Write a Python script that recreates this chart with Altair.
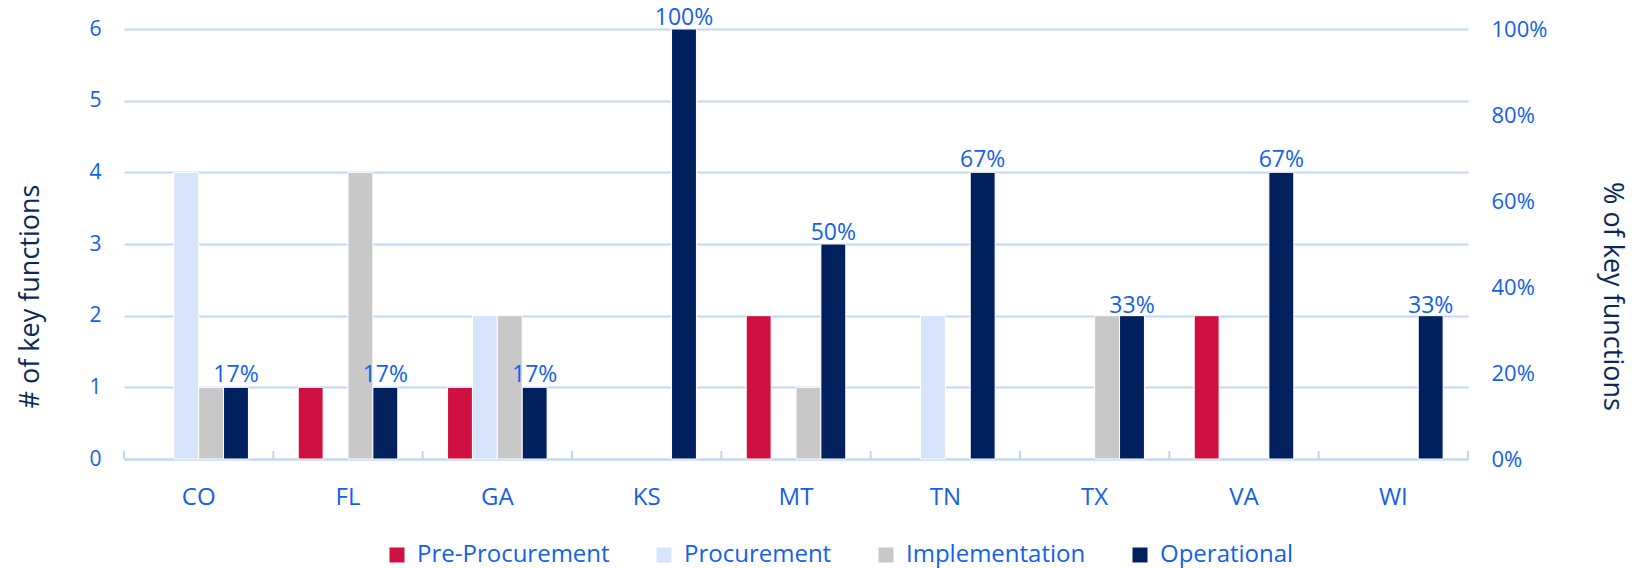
import altair as alt
import pandas as pd

states = ["CO", "FL", "GA", "KS", "MT", "TN", "TX", "VA", "WI"]
series = ["Pre-Procurement", "Procurement", "Implementation", "Operational"]
pre_procurement = [0, 1, 1, 0, 2, 0, 0, 2, 0]
procurement = [4, 0, 2, 0, 0, 2, 0, 0, 0]
implementation = [1, 4, 2, 0, 1, 0, 2, 0, 0]
operational = [1, 1, 1, 6, 3, 4, 2, 4, 2]
pct_values = [0.17, 0.17, 0.17, 1.00, 0.50, 0.67, 0.33, 0.67, 0.33]
pct_labels = ["17%", "17%", "17%", "100%", "50%", "67%", "33%", "67%", "33%"]
colors = ["#CE1141", "#D6E4FC", "#C8C8C8", "#00215E"]

FONT = "Open Sans"
BLUE = "#145FEB"
NAVY = "#0B2859"
GRID = "#C3D6F5"

rows = []
for name, vals in zip(series, [pre_procurement, procurement, implementation, operational]):
    for st, v in zip(states, vals):
        rows.append({"state": st, "series": name, "count": v})
bars_df = pd.DataFrame(rows)

labels_df = pd.DataFrame({
    "state": states,
    "series": ["Operational"] * len(states),
    "pct": pct_values,
    "label": pct_labels,
})

ticks_df = pd.DataFrame({"state": states, "count": [0] * len(states), "top": [0.11] * len(states)})

x_scale = alt.Scale(domain=states, paddingInner=0, paddingOuter=0)
xoff_scale = alt.Scale(domain=series, paddingInner=0, paddingOuter=1)
y_scale = alt.Scale(domain=[0, 6], nice=False)

x_axis = alt.Axis(title=None, labelAngle=0, ticks=False, domain=True,
                  domainColor=GRID, domainWidth=2, labelFontSize=24,
                  labelColor=BLUE, labelFont=FONT, labelPadding=26, grid=False)

y_axis = alt.Axis(title="# of key functions", values=[0, 1, 2, 3, 4, 5, 6],
                  format="d", grid=True, gridColor=GRID, gridWidth=2,
                  domain=False, ticks=False, labelFontSize=21, labelColor=BLUE,
                  labelFont=FONT, labelPadding=23,
                  titleFontSize=27, titleFont=FONT, titleColor=NAVY,
                  titleFontWeight="normal", titleAngle=-90, titleBaseline="middle",
                  titleAlign="center", titleX=-94, titleY=267)

bars = alt.Chart(bars_df).mark_bar(stroke="white", strokeWidth=1).transform_filter(
    alt.datum.count > 0
).encode(
    x=alt.X("state:N", scale=x_scale, sort=states, axis=x_axis),
    xOffset=alt.XOffset("series:N", scale=xoff_scale, sort=series),
    y=alt.Y("count:Q", scale=y_scale, axis=y_axis),
    color=alt.Color("series:N", scale=alt.Scale(domain=series, range=colors),
                    legend=alt.Legend(title=None, orient="none", direction="horizontal",
                                      legendX=261, legendY=514, symbolType="square",
                                      symbolSize=225, symbolStrokeWidth=0,
                                      labelFontSize=24, labelFont=FONT, labelColor=BLUE,
                                      labelLimit=400, labelOffset=8, columnPadding=42)),
)

edge_ticks = alt.Chart(ticks_df).mark_rule(color=GRID, strokeWidth=2).encode(
    x=alt.X("state:N", scale=x_scale, sort=states, bandPosition=0, axis=x_axis),
    y=alt.Y("count:Q", scale=y_scale, axis=y_axis),
    y2="top:Q",
)
end_tick = alt.Chart(ticks_df).mark_rule(color=GRID, strokeWidth=2).transform_filter(
    alt.datum.state == states[-1]
).encode(
    x=alt.X("state:N", scale=x_scale, sort=states, bandPosition=1, axis=x_axis),
    y=alt.Y("count:Q", scale=y_scale, axis=y_axis),
    y2="top:Q",
)

left = alt.layer(bars, edge_ticks, end_tick)

text = alt.Chart(labels_df).mark_text(
    font=FONT, fontSize=23, color=BLUE, baseline="alphabetic", dy=-4
).encode(
    x=alt.X("state:N", scale=x_scale, sort=states, axis=x_axis),
    xOffset=alt.XOffset("series:N", scale=xoff_scale, sort=series),
    y=alt.Y("pct:Q", scale=alt.Scale(domain=[0, 1], nice=False),
            axis=alt.Axis(orient="right", title="% of key functions",
                          values=[0, 0.2, 0.4, 0.6, 0.8, 1.0], format=".0%",
                          grid=False, domain=False, ticks=False, labelFontSize=22,
                          labelColor=BLUE, labelFont=FONT, labelPadding=23,
                          titleFontSize=27, titleFont=FONT, titleColor=NAVY,
                          titleFontWeight="normal", titleAngle=90, titleBaseline="middle",
                          titleAlign="center", titleX=143, titleY=267)),
    text="label:N",
)

chart = alt.layer(left, text).resolve_scale(y="independent").properties(
    width=1344, height=430,
    padding={"left": 124, "top": 29, "right": 164, "bottom": 109},
    autosize=alt.AutoSizeParams(type="none"),
    background="white",
).configure_view(stroke=None)

chart.save("out.html", embed_options={"renderer": "svg", "actions": False})
